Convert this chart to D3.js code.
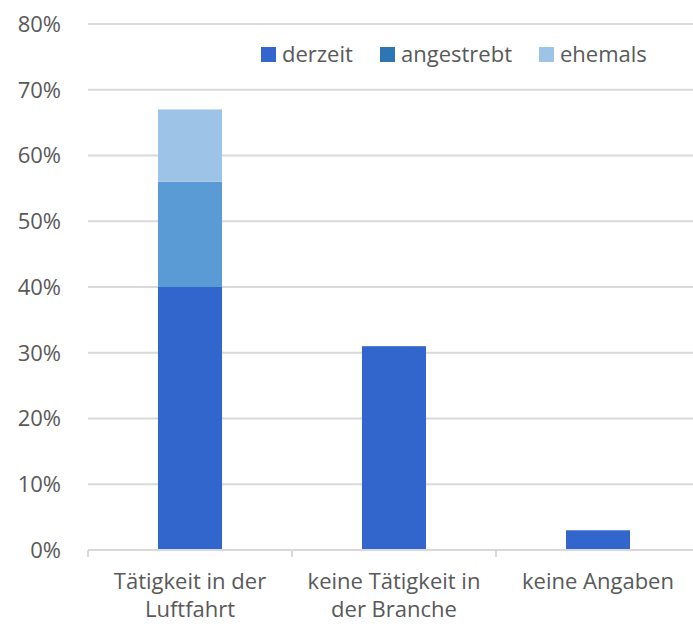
<!DOCTYPE html>
<head>
<meta charset="utf-8">
<style>
  body { margin: 0; background: #fff; }
  svg { font-family: "Open Sans", sans-serif; }
  .axis text { fill: #595959; font-size: 22px; }
  .grid line { stroke: #d9d9d9; stroke-width: 2px; }
  .grid path { display: none; }
</style>
<script src="https://d3js.org/d3.v7.min.js"></script>
</head>
<body>
<div id="chart"></div>
<script>
var categories = [["Tätigkeit in der", "Luftfahrt"], ["keine Tätigkeit in", "der Branche"], ["keine Angaben"]];
var seriesNames = ["derzeit", "angestrebt", "ehemals"];
var derzeit = [40, 31, 3];
var angestrebt = [16, 0, 0];
var ehemals = [11, 0, 0];
var yTicks = [0, 10, 20, 30, 40, 50, 60, 70, 80];
var barColors = ["#3366cc", "#5b9bd5", "#9dc3e6"];
var legendColors = ["#3366cc", "#2e75b6", "#9dc3e6"];

var width = 693, height = 624;
var svg = d3.select("#chart").append("svg")
  .attr("width", width).attr("height", height);

var rows = categories.map(function (c, i) {
  return { key: i, derzeit: derzeit[i], angestrebt: angestrebt[i], ehemals: ehemals[i] };
});

var x = d3.scaleBand().domain(d3.range(categories.length)).range([88, 700]).padding(0);
var y = d3.scaleLinear().domain([0, 80]).range([550, 24]);
var barW = x.bandwidth() * 0.314;

// grid
svg.append("g").attr("class", "grid")
  .selectAll("line").data(yTicks.slice(1)).enter().append("line")
  .attr("x1", 88).attr("x2", width)
  .attr("y1", function (d) { return y(d); }).attr("y2", function (d) { return y(d); });

// y labels
svg.append("g").attr("class", "axis")
  .selectAll("text").data(yTicks).enter().append("text")
  .attr("x", 61).attr("y", function (d) { return y(d); })
  .attr("dy", "0.36em").attr("text-anchor", "end")
  .text(function (d) { return d + "%"; });

var stack = d3.stack().keys(seriesNames);
var layers = stack(rows);

svg.selectAll(".layer").data(layers).enter().append("g")
  .attr("class", "layer")
  .attr("fill", function (d, i) { return barColors[i]; })
  .selectAll("rect").data(function (d) { return d.filter(function (v) { return v[1] > v[0]; }); })
  .enter().append("rect")
  .attr("x", function (d) { return x(d.data.key) + (x.bandwidth() - barW) / 2; })
  .attr("y", function (d) { return y(d[1]); })
  .attr("width", barW)
  .attr("height", function (d) { return y(d[0]) - y(d[1]); });

// x axis
var xa = svg.append("g").attr("class", "axis");
xa.append("line").attr("x1", 88).attr("x2", width).attr("y1", 550).attr("y2", 550)
  .attr("stroke", "#d9d9d9").attr("stroke-width", 2);
xa.selectAll(".tick").data(d3.range(categories.length + 1)).enter().append("line")
  .attr("x1", function (d) { return 88 + d * x.step(); })
  .attr("x2", function (d) { return 88 + d * x.step(); })
  .attr("y1", 550).attr("y2", 557)
  .attr("stroke", "#d9d9d9").attr("stroke-width", 2);
var lab = xa.selectAll(".lab").data(categories).enter().append("text")
  .attr("text-anchor", "middle")
  .attr("x", function (d, i) { return x(i) + x.bandwidth() / 2; })
  .attr("y", 589);
lab.selectAll("tspan").data(function (d) { return d; }).enter().append("tspan")
  .attr("x", function () { return d3.select(this.parentNode).attr("x"); })
  .attr("dy", function (d, i) { return i ? 28 : 0; })
  .text(function (d) { return d; });

// legend
var legX = [261, 380, 539];
var leg = svg.append("g").attr("class", "axis")
  .selectAll("g").data(seriesNames).enter().append("g")
  .attr("transform", function (d, i) { return "translate(" + legX[i] + ",47)"; });
leg.append("rect").attr("width", 15).attr("height", 15)
  .attr("fill", function (d, i) { return legendColors[i]; });
leg.append("text").attr("x", 21).attr("y", 7.5).attr("dy", "0.36em")
  .text(function (d) { return d; });
</script>
</body>
